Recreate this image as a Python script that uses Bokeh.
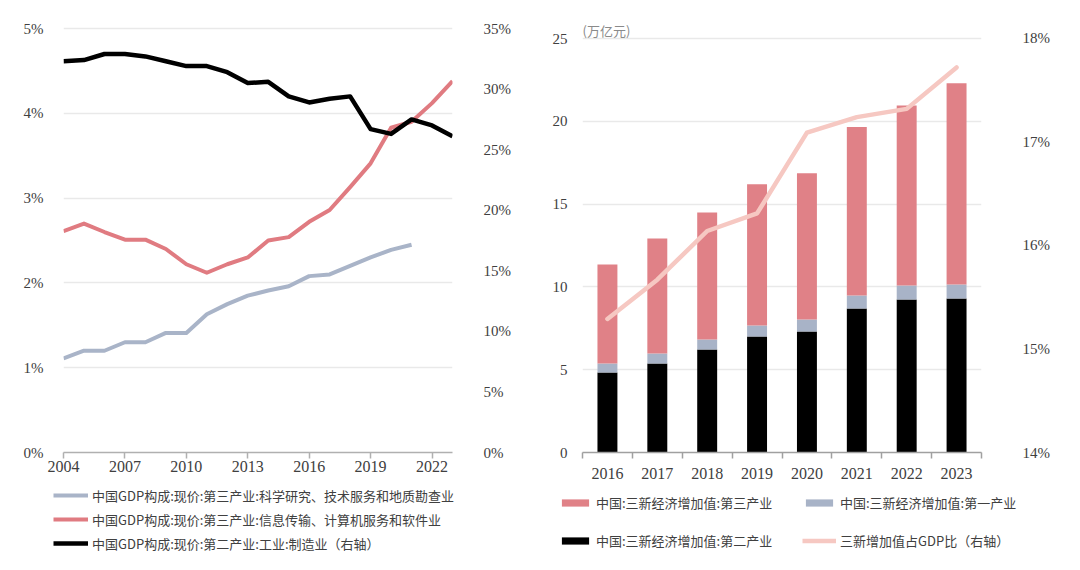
from bokeh.plotting import figure
from bokeh.models import (Range1d, LinearAxis, FixedTicker, PrintfTickFormatter,
                          Legend, LegendItem, Label, ColumnDataSource)
from bokeh.layouts import row, column
from bokeh.embed import file_html
from bokeh.resources import INLINE

# ---------------- data: left chart ----------------
years_l = list(range(2004, 2024))
years_sci = list(range(2004, 2022))
sci_share = [1.11, 1.20, 1.20, 1.30, 1.30, 1.41, 1.41, 1.63, 1.75, 1.85,
             1.91, 1.96, 2.08, 2.10, 2.20, 2.30, 2.39, 2.45]
info_share = [2.61, 2.70, 2.60, 2.51, 2.51, 2.40, 2.22, 2.12, 2.22, 2.30,
              2.50, 2.54, 2.72, 2.86, 3.13, 3.41, 3.83, 3.90, 4.12, 4.38]
manu_share = [32.3, 32.4, 32.9, 32.9, 32.7, 32.3, 31.9, 31.9, 31.4, 30.5,
              30.6, 29.4, 28.9, 29.2, 29.4, 26.7, 26.3, 27.5, 27.0, 26.1]
left_xticks = [2004, 2007, 2010, 2013, 2016, 2019, 2022]
left_labels = ["中国GDP构成:现价:第三产业:科学研究、技术服务和地质勘查业",
               "中国GDP构成:现价:第三产业:信息传输、计算机服务和软件业",
               "中国GDP构成:现价:第二产业:工业:制造业（右轴）"]

# ---------------- data: right chart ----------------
years_r = ["2016", "2017", "2018", "2019", "2020", "2021", "2022", "2023"]
secondary = [4.83, 5.37, 6.22, 7.00, 7.30, 8.70, 9.24, 9.30]
primary = [0.54, 0.61, 0.60, 0.67, 0.73, 0.78, 0.84, 0.85]
tertiary = [5.98, 6.94, 7.68, 8.53, 8.83, 10.17, 10.87, 12.15]
gdp_ratio = [15.29, 15.67, 16.14, 16.31, 17.09, 17.24, 17.32, 17.72]
right_labels = ["中国:三新经济增加值:第三产业", "中国:三新经济增加值:第一产业",
                "中国:三新经济增加值:第二产业", "三新增加值占GDP比（右轴）"]
unit_label = "(万亿元)"

# ---------------- styles ----------------
NUM_FONT = "Liberation Serif"
CJK_FONT = "Noto Sans CJK SC"
TXT = "#404040"
GRID = "#e9e9e9"
C_GRAY = "#a9b4c8"
C_RED = "#e07b81"
C_BLACK = "#000000"
C_PINK = "#f6c8c2"
C_BAR_RED = "#e08187"
C_BAR_GRAY = "#a8b3c7"

TOP, FRAME_H, BOTTOM = 18, 434, 34
LEG_H = 82


def style_axis(ax, standoff, size="15px"):
    ax.major_label_text_font = NUM_FONT
    ax.major_label_text_font_size = size
    ax.major_label_text_color = TXT
    ax.axis_line_color = None
    ax.major_tick_line_color = None
    ax.minor_tick_line_color = None
    ax.major_tick_out = 0
    ax.major_tick_in = 0
    ax.minor_tick_out = 0
    ax.minor_tick_in = 0
    ax.major_label_standoff = standoff


def legend_fig(width):
    # a bare canvas whose frame fills it; key glyphs are drawn off-range
    f = figure(width=width, height=LEG_H, min_border=0, output_backend="svg",
               toolbar_location=None, x_axis_type=None, y_axis_type=None,
               x_range=Range1d(-3, -2), y_range=Range1d(-3, -2))
    f.outline_line_color = None
    f.xgrid.visible = False
    f.ygrid.visible = False
    return f


# ================= LEFT FIGURE =================
p1 = figure(width=530, height=TOP + FRAME_H + BOTTOM, frame_width=389, frame_height=FRAME_H,
            min_border_left=63, min_border_right=78, min_border_top=TOP,
            min_border_bottom=BOTTOM, output_backend="svg", toolbar_location=None,
            x_range=Range1d(2004, 2023), y_range=Range1d(0, 5.118))
p1.outline_line_color = None
p1.extra_y_ranges = {"right": Range1d(0, 35.83)}

p1.yaxis.ticker = FixedTicker(ticks=[0, 1, 2, 3, 4, 5])
p1.yaxis.formatter = PrintfTickFormatter(format="%d%%")
style_axis(p1.yaxis[0], 20)

rax = LinearAxis(y_range_name="right", ticker=FixedTicker(ticks=[0, 5, 10, 15, 20, 25, 30, 35]),
                 formatter=PrintfTickFormatter(format="%d%%"))
style_axis(rax, 31)
p1.add_layout(rax, "right")

p1.xaxis.ticker = FixedTicker(ticks=left_xticks, minor_ticks=[])
p1.xaxis.major_label_text_font = NUM_FONT
p1.xaxis.major_label_text_font_size = "16px"
p1.xaxis.major_label_text_color = TXT
p1.xaxis.axis_line_color = "#b0b0b0"
p1.xaxis.axis_line_width = 1.5
p1.xaxis.major_tick_line_color = "#b0b0b0"
p1.xaxis.major_tick_line_width = 1.5
p1.xaxis.major_tick_out = 6
p1.xaxis.major_tick_in = 0
p1.xaxis.minor_tick_line_color = None
p1.xaxis.major_label_standoff = 2

p1.xgrid.grid_line_color = None
p1.ygrid.grid_line_color = GRID
p1.ygrid.grid_line_width = 1.5

p1.line(years_sci, sci_share, line_color=C_GRAY, line_width=4, line_join="round")
p1.line(years_l, info_share, line_color=C_RED, line_width=4, line_join="round")
p1.line(years_l, manu_share, line_color=C_BLACK, line_width=4.5, y_range_name="right",
        line_join="round")

# legend for left chart
L1 = legend_fig(530)
k_sci = L1.line(years_sci, sci_share, line_color=C_GRAY, line_width=4)
k_info = L1.line(years_l, info_share, line_color=C_RED, line_width=4)
k_manu = L1.line(years_l, manu_share, line_color=C_BLACK, line_width=4.5)
leg1 = Legend(items=[LegendItem(label=left_labels[0], renderers=[k_sci]),
                     LegendItem(label=left_labels[1], renderers=[k_info]),
                     LegendItem(label=left_labels[2], renderers=[k_manu])],
              location=(53, 15), orientation="vertical",
              glyph_width=35, glyph_height=20, label_height=20, spacing=4,
              label_standoff=4, padding=0, margin=0,
              border_line_color=None, background_fill_alpha=0,
              label_text_font=CJK_FONT, label_text_font_size="13px",
              label_text_color=TXT)
L1.add_layout(leg1, "center")

# ================= RIGHT FIGURE =================
xs = [i + 0.5 for i in range(len(years_r))]
src = ColumnDataSource(dict(x=xs, secondary=secondary, primary=primary, tertiary=tertiary,
                            ratio=gdp_ratio))

p2 = figure(width=548, height=TOP + FRAME_H + BOTTOM, frame_width=399, frame_height=FRAME_H,
            min_border_left=52, min_border_right=97, min_border_top=TOP,
            min_border_bottom=BOTTOM, output_backend="svg", toolbar_location=None,
            x_range=Range1d(0, len(years_r)), y_range=Range1d(0, 26.21))
p2.outline_line_color = None
p2.extra_y_ranges = {"right": Range1d(14, 18.193)}

p2.yaxis.ticker = FixedTicker(ticks=[0, 5, 10, 15, 20, 25])
style_axis(p2.yaxis[0], 15)

rax2 = LinearAxis(y_range_name="right", ticker=FixedTicker(ticks=[14, 15, 16, 17, 18]),
                  formatter=PrintfTickFormatter(format="%d%%"))
style_axis(rax2, 41)
p2.add_layout(rax2, "right")

p2.xaxis.ticker = FixedTicker(ticks=xs, minor_ticks=list(range(len(years_r) + 1)))
p2.xaxis.major_label_overrides = {x: y for x, y in zip(xs, years_r)}
p2.xaxis.major_label_text_font = NUM_FONT
p2.xaxis.major_label_text_font_size = "16px"
p2.xaxis.major_label_text_color = TXT
p2.xaxis.axis_line_color = "#a0a0a0"
p2.xaxis.axis_line_width = 1.5
p2.xaxis.major_tick_line_color = None
p2.xaxis.major_tick_out = 6
p2.xaxis.major_tick_in = 0
p2.xaxis.minor_tick_line_color = "#a0a0a0"
p2.xaxis.minor_tick_line_width = 1.5
p2.xaxis.minor_tick_out = 6
p2.xaxis.minor_tick_in = 0
p2.xaxis.major_label_standoff = 9

p2.xgrid.grid_line_color = None
p2.ygrid.grid_line_color = GRID
p2.ygrid.grid_line_width = 1.5

p2.vbar_stack(["secondary", "primary", "tertiary"], x="x", width=0.4, source=src,
              color=[C_BLACK, C_BAR_GRAY, C_BAR_RED], line_color=None)
p2.line("x", "ratio", source=src, line_color=C_PINK, line_width=4.5,
        y_range_name="right", line_cap="round", line_join="round")

p2.add_layout(Label(x=0, y=25, text=unit_label, x_offset=0, y_offset=8,
                    text_baseline="middle", text_font=CJK_FONT, text_font_size="13px",
                    text_color="#8a8a8a"))

# legend for right chart
L2 = legend_fig(548)
k_ter = L2.vbar(x=xs, top=tertiary, width=0.4, color=C_BAR_RED, line_color=None)
k_sec = L2.vbar(x=xs, top=secondary, width=0.4, color=C_BLACK, line_color=None)
k_pri = L2.vbar(x=xs, top=primary, width=0.4, color=C_BAR_GRAY, line_color=None)
k_rat = L2.line(xs, gdp_ratio, line_color=C_PINK, line_width=4.5)
leg_common = dict(orientation="vertical", glyph_width=34, glyph_height=9, label_height=9,
                  spacing=19, label_standoff=4, padding=0, margin=0,
                  border_line_color=None, background_fill_alpha=0,
                  label_text_font=CJK_FONT, label_text_font_size="13px",
                  label_text_color=TXT)
leg2a = Legend(items=[LegendItem(label=right_labels[0], renderers=[k_ter]),
                      LegendItem(label=right_labels[2], renderers=[k_sec])],
               location=(28, 18), **leg_common)
leg2b = Legend(items=[LegendItem(label=right_labels[1], renderers=[k_pri]),
                      LegendItem(label=right_labels[3], renderers=[k_rat])],
               location=(272, 18), **leg_common)
L2.add_layout(leg2a, "center")
L2.add_layout(leg2b, "center")

layout = column(row(p1, p2), row(L1, L2))
open("out.html", "w").write(file_html(layout, INLINE))
